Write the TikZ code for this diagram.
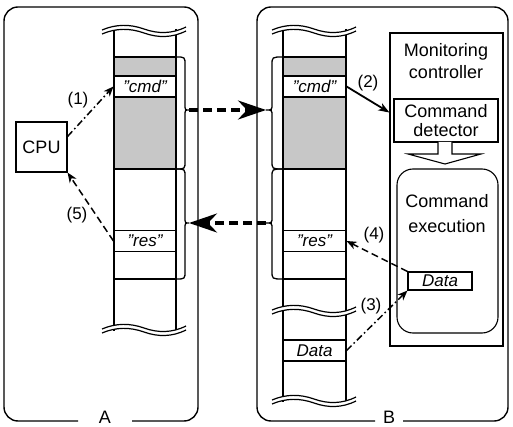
\documentclass[tikz,border=0pt]{standalone}
\usepackage{fontspec}
\setmainfont{Liberation Sans}
\usetikzlibrary{arrows.meta,calc}

% curly bracket beside a memory column: x0, y-top, y-bottom, y-tip, bar offset, tip offset
\newcommand\membrace[6]{%
  \draw[col] (#1,#2) .. controls ({#1+(#5)},#2) .. ({#1+(#5)},{#2+8})
    -- ({#1+(#5)},{#4-6}) .. controls ({#1+(#5)},#4) .. ({#1+(#6)},#4)
    .. controls ({#1+(#5)},#4) .. ({#1+(#5)},{#4+6})
    -- ({#1+(#5)},{#3-8}) .. controls ({#1+(#5)},#3) .. (#1,#3);}

% double wavy break across a memory column, centred at (#1,#2)
\newcommand\wavebreak[2]{%
  \begin{scope}[shift={(#1,#2)}]
    \fill[white] (-42,-1) .. controls (-28,-7) and (-14,-7) .. (0,-2)
      .. controls (14,3) and (28,3) .. (42,-4) -- (42,0)
      .. controls (28,7) and (14,7) .. (0,2)
      .. controls (-14,-3) and (-28,-3) .. (-42,3) -- cycle;
    \draw[line width=1.2pt] (-42,-1) .. controls (-28,-7) and (-14,-7) .. (0,-2)
      .. controls (14,3) and (28,3) .. (42,-4);
    \draw[line width=1.2pt] (-42,3) .. controls (-28,-3) and (-14,-3) .. (0,2)
      .. controls (14,7) and (28,7) .. (42,0);
  \end{scope}}

\tikzset{
  frame/.style={line width=1.4pt, rounded corners=14pt},
  col/.style={line width=1.3pt},
  hline/.style={line width=1.1pt},
  cell/.style={draw, line width=1.1pt, minimum height=21pt, inner sep=0pt,
    font=\fontsize{17}{20}\selectfont\itshape},
  shade/.style={fill=black!22},
  box/.style={draw, line width=1.1pt, inner sep=0pt},
  lab/.style={font=\fontsize{17}{20}\selectfont, inner sep=0pt},
  thinarrow/.style={line width=1.5pt, -{Stealth[length=10pt,width=8pt,inset=3pt]}},
  dashline/.style={thinarrow, dash pattern=on 7pt off 4pt},
  dotline/.style={thinarrow, dash pattern=on 7pt off 3pt on 1.5pt off 3pt},
  bigarrow/.style={line width=3.4pt, dash pattern=on 9pt off 5pt,
    -{Stealth[length=28pt,width=19pt,inset=9pt]}}
}

\begin{document}
\begin{tikzpicture}[x=1pt, y=-1pt]
\useasboundingbox (0,0) rectangle (513,427);

% ---------- outer frames ----------
\draw[frame] (78,421) -- (4,421) -- (4,7) -- (198,7) -- (198,421) -- (132,421);
\node[lab, font=\fontsize{18}{20}\selectfont, anchor=base] (labA) at (105,423.5) {A};
\draw[frame] (375,421) -- (257,421) -- (257,7) -- (508,7) -- (508,421) -- (403,421);
\node[lab, font=\fontsize{18}{20}\selectfont, anchor=base] (labB) at (389,423.5) {B};

% ---------- memory column of A ----------
\fill[shade] (114,57) rectangle (176,76);
\fill[shade] (114,97) rectangle (176,169);
\draw[col] (114,29) -- (114,331);
\draw[col] (176,29) -- (176,331);
\draw[hline] (114,57) -- (176,57);
\draw[hline] (114,169) -- (176,169);
\draw[hline] (114,279) -- (176,279);
\node[cell, fill=white, minimum width=62pt] (cmdA) at (145,86.5) {"cmd"};
\node[cell, minimum width=62pt] (resA) at (145,241) {"res"};
\wavebreak{144}{31}
\wavebreak{144}{330}
\membrace{176}{57}{169}{110}{9}{13}
\membrace{176}{169}{279}{223}{9}{13}

% ---------- memory column of B ----------
\fill[shade] (283,57) rectangle (346,76);
\fill[shade] (283,97) rectangle (346,169);
\draw[col] (283,29) -- (283,402);
\draw[col] (346,29) -- (346,402);
\draw[hline] (283,57) -- (346,57);
\draw[hline] (283,169) -- (346,169);
\draw[hline] (283,279) -- (346,279);
\node[cell, fill=white, minimum width=63pt] (cmdB) at (314.5,86.5) {"cmd"};
\node[cell, minimum width=63pt] (resB) at (314.5,241) {"res"};
\node[cell, minimum width=63pt] (dataB) at (314.5,350.5) {Data};
\wavebreak{314}{31}
\wavebreak{314}{311}
\wavebreak{314}{401}
\membrace{283}{57}{169}{110}{-11}{-17}
\membrace{283}{169}{279}{223}{-11}{-17}

% ---------- CPU ----------
\node[box, minimum width=51pt, minimum height=50pt, font=\fontsize{18}{20}\selectfont]
  (cpu) at (41.5,147) {CPU};

% ---------- monitoring controller ----------
\node[box, minimum width=113pt, minimum height=313pt] (mon) at (446.5,189.5) {};
\node[lab, font=\fontsize{18}{22}\selectfont, align=center] (montxt) at (446,61)
  {Monitoring\\controller};
\node[box, minimum width=104pt, minimum height=43pt, align=center,
  font=\fontsize{18}{18.5}\selectfont] (det) at (446,120.5) {Command\\detector};
\draw[box, fill=white] (438,142) -- (438,154) -- (408,154) -- (445,164)
  -- (481,154) -- (452,154) -- (452,142);
\node[box, rounded corners=16pt, minimum width=101pt, minimum height=164pt]
  (exe) at (447.5,251) {};
\node[lab, font=\fontsize{18}{25}\selectfont, align=center] (exetxt) at (447,214)
  {Command\\execution};
\node[box, minimum width=64pt, minimum height=18pt,
  font=\fontsize{17}{20}\selectfont\itshape] (dataE) at (440,281) {Data};

% ---------- transfers between A and B ----------
\coordinate (pA1) at (189,110);
\coordinate (pB1) at (266,110);
\coordinate (pA2) at (189,223);
\coordinate (pB2) at (266,223);
\draw[bigarrow] (pA1) -- (pB1);
\draw[bigarrow] (pB2) -- (pA2);

% ---------- numbered steps ----------
\coordinate (monin) at ($(mon.north west)!0.255!(mon.south west)$);
\draw[dotline] (cpu.22) -- (cmdA.west);
\draw[line width=1.8pt, -{Stealth[length=11pt,width=8pt,inset=3pt]}] (cmdB.east) -- (monin);
\draw[dotline] (dataB.east) -- (dataE.south west);
\draw[dashline] (dataE.north west) -- (resB.east);
\draw[dashline] (resA.west) -- (cpu.south east);

\node[lab] (l1) at (78,100) {(1)};
\node[lab] (l2) at (368,83) {(2)};
\node[lab] (l3) at (371,306) {(3)};
\node[lab] (l4) at (374,235) {(4)};
\node[lab] (l5) at (77,215) {(5)};
\end{tikzpicture}
\end{document}
